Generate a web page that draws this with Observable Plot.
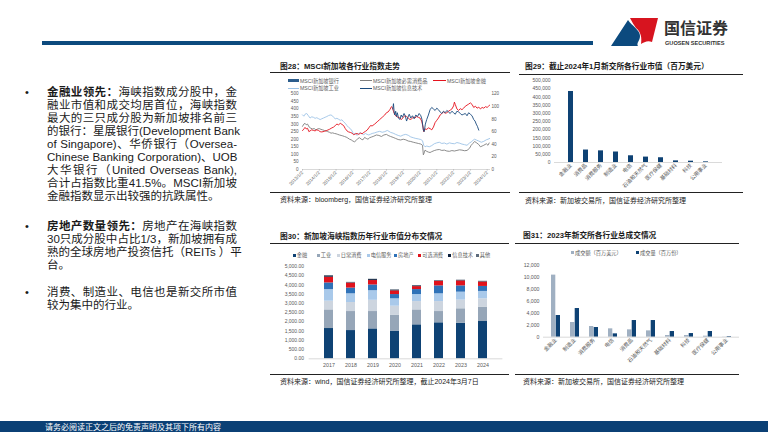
<!DOCTYPE html>
<html><head><meta charset="utf-8">
<script src="https://cdn.jsdelivr.net/npm/d3@7"></script>
<script src="https://cdn.jsdelivr.net/npm/@observablehq/plot@0.6"></script>
<style>
body{margin:0;width:768px;height:432px;position:relative;overflow:hidden;background:#fff;font-family:"Liberation Sans","Noto Sans CJK SC",sans-serif;color:#1a1a1a;}
.abs{position:absolute;}
.ln{position:absolute;left:47px;width:190px;height:13px;line-height:13px;font-size:11.5px;white-space:nowrap;text-align:justify;text-align-last:justify;}
.ln.last{text-align-last:left;}
.bul{position:absolute;left:25px;font-size:11px;line-height:13px;}
.t{position:absolute;white-space:nowrap;}
.ttl{font-size:7.7px;font-weight:700;color:#1a1a1a;font-family:"Liberation Sans","Noto Sans CJK SC",sans-serif;}
.src{font-size:7px;color:#1a1a1a;}
.hr{position:absolute;height:1px;background:#222;}
.leg{position:absolute;font-size:5.2px;color:#595959;white-space:nowrap;line-height:6px;}
svg text{font-family:"Liberation Sans","Noto Sans CJK SC",sans-serif;}
</style></head><body>
<div class="abs" style="left:42px;top:41px;width:551px;height:4px;background:#0c4a7e"></div>
<svg class="abs" style="left:0;top:0" width="768" height="60">
  <path d="M611,46 L628,20 C632,26 640,30 640,36 C640,41 636,43 638,46 Z" fill="#0c4a7e"/>
  <path d="M630,18 L658,18 L652,42 C648,40 644,42 641,44 C642,38 641,32 636,28 C634,25 632,22 630,18 Z" fill="#d7141f"/>
  <text x="664" y="34" font-size="16" font-weight="700" fill="#333" style="font-family:'Noto Sans CJK SC'">国信证券</text>
  <text x="665" y="44.5" font-size="5.6" font-weight="700" fill="#333">GUOSEN SECURITIES</text>
</svg>
<div id="left"></div>
<div id="panels"></div>
<div class="abs" style="left:0;top:421px;width:768px;height:11px;background:#0b4075"></div>
<div class="t" style="left:45px;top:421px;font-size:8px;line-height:11px;color:#fff;font-family:'Noto Sans CJK SC'">请务必阅读正文之后的免责声明及其项下所有内容</div>
<script>
// ---------------- data ----------------
const bullet1 = ["<b>金融业领先：</b>海峡指数成分股中，金","融业市值和成交均居首位，海峡指数","最大的三只成分股为新加坡排名前三","的银行：星展银行(Development Bank","of Singapore)、华侨银行（Oversea-","Chinese Banking Corporation)、UOB","大华银行（United Overseas Bank),","合计占指数比重41.5%。MSCI新加坡","金融指数显示出较强的抗跌属性。"];
const bullet2 = ["<b>房地产数量领先：</b>房地产在海峡指数","30只成分股中占比1/3，新加坡拥有成","熟的全球房地产投资信托（REITs ）平","台。"];
const bullet3 = ["消费、制造业、电信也是新交所市值","较为集中的行业。"];

// Chart 28: [year, index value on left scale]
const years28 = [2013,2014,2015,2016,2017,2018,2019,2020,2021,2022,2023,2024];
const leftTicks28 = [0,50,100,150,200,250,300,350,400,450,500];
const rightTicks28 = [0,20,40,60,80,100,120];
const indLightBlue = [[2013.0,361],[2013.08,352],[2013.15,365],[2013.25,370],[2013.35,355],[2013.45,340],[2013.55,348],[2013.65,345],[2013.75,338],[2013.85,342],[2013.95,336],[2014.05,330],[2014.15,335],[2014.25,340],[2014.35,345],[2014.45,350],[2014.55,356],[2014.65,360],[2014.75,358],[2014.85,345],[2014.95,335],[2015.05,338],[2015.15,332],[2015.25,325],[2015.35,328],[2015.45,315],[2015.55,305],[2015.65,290],[2015.75,278],[2015.85,270],[2015.95,255],[2016.05,232],[2016.15,240],[2016.25,225],[2016.35,238],[2016.45,244],[2016.55,236],[2016.65,230],[2016.75,238],[2016.85,232],[2016.95,228],[2017.05,233],[2017.15,238],[2017.3,242],[2017.45,248],[2017.6,252],[2017.75,246],[2017.9,250],[2018.05,258],[2018.15,252],[2018.25,245],[2018.4,240],[2018.55,232],[2018.7,225],[2018.85,220],[2019.0,228],[2019.15,232],[2019.3,226],[2019.45,215],[2019.6,210],[2019.75,205],[2019.9,202],[2020.05,198],[2020.15,190],[2020.22,160],[2020.3,150],[2020.4,155],[2020.55,150],[2020.7,158],[2020.85,170],[2021.0,176],[2021.15,180],[2021.3,172],[2021.45,175],[2021.6,168],[2021.75,176],[2021.9,172],[2022.05,170],[2022.2,178],[2022.35,174],[2022.5,168],[2022.65,164],[2022.8,160],[2022.95,175],[2023.05,182],[2023.15,192],[2023.25,200],[2023.35,195],[2023.5,188],[2023.65,180],[2023.8,186],[2023.95,196],[2024.05,200],[2024.15,205]];
const indGray = [[2013.0,285],[2013.08,300],[2013.15,305],[2013.22,295],[2013.3,300],[2013.4,280],[2013.5,272],[2013.6,268],[2013.7,270],[2013.8,262],[2013.9,268],[2014.0,270],[2014.1,265],[2014.2,262],[2014.3,258],[2014.4,255],[2014.5,250],[2014.6,246],[2014.7,240],[2014.8,242],[2014.9,238],[2015.0,236],[2015.1,232],[2015.2,228],[2015.3,225],[2015.4,222],[2015.5,218],[2015.6,214],[2015.7,208],[2015.8,200],[2015.9,196],[2016.0,188],[2016.1,183],[2016.2,192],[2016.3,205],[2016.4,210],[2016.5,200],[2016.6,196],[2016.7,212],[2016.8,205],[2016.9,200],[2017.0,210],[2017.1,214],[2017.25,220],[2017.4,228],[2017.55,225],[2017.7,218],[2017.85,228],[2018.0,232],[2018.1,225],[2018.25,218],[2018.4,212],[2018.55,205],[2018.7,198],[2018.85,195],[2019.0,200],[2019.15,196],[2019.3,188],[2019.45,185],[2019.6,180],[2019.75,176],[2019.9,172],[2020.05,168],[2020.15,160],[2020.2,97],[2020.25,110],[2020.3,128],[2020.4,120],[2020.5,115],[2020.6,112],[2020.7,118],[2020.85,125],[2021.0,130],[2021.15,132],[2021.3,126],[2021.45,128],[2021.6,122],[2021.75,120],[2021.9,125],[2022.05,122],[2022.2,126],[2022.35,130],[2022.5,128],[2022.65,124],[2022.8,126],[2022.95,140],[2023.05,160],[2023.15,172],[2023.25,185],[2023.35,178],[2023.5,165],[2023.6,150],[2023.7,155],[2023.8,160],[2023.95,170],[2024.05,160],[2024.12,175]];
const indRed = [[2013.0,258],[2013.05,262],[2013.1,270],[2013.15,278],[2013.22,268],[2013.3,272],[2013.38,250],[2013.45,255],[2013.55,262],[2013.65,258],[2013.75,255],[2013.85,262],[2013.95,258],[2014.05,250],[2014.15,248],[2014.3,252],[2014.45,258],[2014.6,265],[2014.75,275],[2014.85,280],[2014.95,290],[2015.05,300],[2015.15,295],[2015.25,305],[2015.35,298],[2015.45,290],[2015.55,270],[2015.65,255],[2015.75,248],[2015.85,245],[2015.95,240],[2016.05,230],[2016.15,235],[2016.25,238],[2016.35,232],[2016.45,240],[2016.55,236],[2016.65,245],[2016.75,252],[2016.85,260],[2016.95,275],[2017.05,290],[2017.15,288],[2017.3,300],[2017.45,315],[2017.6,330],[2017.75,345],[2017.9,360],[2018.0,375],[2018.1,380],[2018.2,395],[2018.3,415],[2018.35,410],[2018.42,385],[2018.5,360],[2018.6,350],[2018.7,345],[2018.8,340],[2018.9,330],[2019.0,345],[2019.1,355],[2019.2,350],[2019.3,340],[2019.4,330],[2019.5,335],[2019.6,345],[2019.7,340],[2019.8,350],[2019.9,345],[2020.0,340],[2020.1,320],[2020.18,280],[2020.22,250],[2020.3,268],[2020.4,265],[2020.5,275],[2020.6,270],[2020.7,262],[2020.8,280],[2020.9,310],[2021.0,325],[2021.1,340],[2021.2,360],[2021.3,370],[2021.4,380],[2021.5,372],[2021.6,375],[2021.7,385],[2021.8,392],[2021.9,400],[2022.0,420],[2022.05,445],[2022.1,430],[2022.2,400],[2022.3,390],[2022.4,402],[2022.5,395],[2022.6,405],[2022.7,418],[2022.8,425],[2022.9,432],[2023.0,440],[2023.1,430],[2023.2,410],[2023.3,418],[2023.4,405],[2023.5,412],[2023.6,400],[2023.7,410],[2023.8,405],[2023.9,415],[2024.0,410],[2024.08,418],[2024.15,425]];
const indNavy = [[2018.38,400],[2018.42,435],[2018.46,380],[2018.5,360],[2018.55,385],[2018.6,350],[2018.65,375],[2018.72,340],[2018.8,330],[2018.88,360],[2018.95,345],[2019.05,370],[2019.12,355],[2019.2,320],[2019.28,345],[2019.36,365],[2019.45,340],[2019.55,355],[2019.65,335],[2019.75,360],[2019.85,350],[2019.95,370],[2020.05,355],[2020.12,330],[2020.2,260],[2020.25,250],[2020.32,300],[2020.4,330],[2020.5,360],[2020.6,395],[2020.7,410],[2020.8,400],[2020.9,390],[2021.0,405],[2021.1,395],[2021.2,380],[2021.3,370],[2021.4,385],[2021.5,375],[2021.6,390],[2021.7,380],[2021.8,370],[2021.9,385],[2022.0,375],[2022.1,365],[2022.2,385],[2022.3,380],[2022.4,370],[2022.5,360],[2022.6,365],[2022.7,370],[2022.8,355],[2022.9,375],[2023.0,365],[2023.1,355],[2023.2,330],[2023.28,320],[2023.35,300],[2023.42,285],[2023.5,260]];

// Chart 29
const cats29 = ["金融业","消费品","消费服务","制造业","电信","石油和天然气","医疗保健","基础材料","科技","公用事业"];
const vals29 = [433000,76000,71000,64000,41000,33000,29000,10000,8000,4000];
const ticks29 = [0,50000,100000,150000,200000,250000,300000,350000,400000,450000,500000];

// Chart 30
const years30 = ["2017","2018","2019","2020","2021","2022","2023","2024"];
const sectors30 = ["金融","工业","日常消费","电信服务","房地产","可选消费","信息技术","其他"];
const fin30  = [1640,1530,1620,1500,1840,1950,1930,2020];
const ind30  = [1010,1030,940,850,810,610,780,780];
const stap30 = [470,490,610,500,450,540,470,450];
const tel30  = [630,470,520,400,380,420,430,400];
const re30   = [360,310,310,230,270,430,340,270];
const disc30 = [310,270,240,200,160,250,270,240];
const it30   = [40,20,50,30,40,20,20,20];
const oth30  = [50,20,20,30,20,20,20,20];
const ticks30 = [0,500,1000,1500,2000,2500,3000,3500,4000,4500,5000];

// Chart 31
const cats31 = ["金融业","制造业","消费服务","电信","消费品","石油和天然气","基础材料","科技","医疗保健","公用事业"];
const amt31 = [10390,2460,1790,1400,1230,1060,280,280,170,30];
const vol31 = [3630,4800,1620,560,2790,2790,950,610,950,110];
const series31 = ["成交额（百万美元）","成交量（百万份）"];
const ticks31 = [0,2000,4000,6000,8000,10000,12000];

// ---------------- styles ----------------
const FONT = '"Liberation Sans","Noto Sans CJK SC",sans-serif';
const NAVY = "#0e4274";
const col30 = ["#0e4274","#96a6b8","#cdd5df","#a9c9ea","#2f72b8","#e0121c","#0a1e3c","#5d6b7c"];
const col31 = ["#a0b0c2","#0e4274"];

// ---------------- left text ----------------
const left = document.getElementById("left");
function bulletBlock(lines, top){
  const b = document.createElement("div"); b.className="bul"; b.style.top=top+"px"; b.textContent="•"; left.appendChild(b);
  lines.forEach((s,i)=>{
    const d=document.createElement("div"); d.className="ln"+(i===lines.length-1?" last":"");
    d.style.top=(top+i*13.05)+"px"; d.innerHTML=s; left.appendChild(d);
  });
}
bulletBlock(bullet1,85.5);
bulletBlock(bullet2,219.5);
bulletBlock(bullet3,285.5);

// ---------------- panel helpers ----------------
const panels = document.getElementById("panels");
function txt(x,yc,s,cls,size){const d=document.createElement("div");d.className="t "+cls;d.style.left=x+"px";d.style.top=(yc-size*0.65)+"px";d.style.lineHeight=(size*1.3)+"px";d.textContent=s;panels.appendChild(d);}
function hr(x1,x2,y){const d=document.createElement("div");d.className="hr";d.style.left=x1+"px";d.style.width=(x2-x1)+"px";d.style.top=y+"px";panels.appendChild(d);}
function place(svg,x,y){svg.style.position="absolute";svg.style.left=x+"px";svg.style.top=y+"px";panels.appendChild(svg);}
function legLine(x,y,w,color,sw,label,tx){
  const s=document.createElement("div");s.className="abs";s.style.left=x+"px";s.style.top=(y-sw/2)+"px";s.style.width=w+"px";s.style.height=sw+"px";s.style.background=color;panels.appendChild(s);
  const t=document.createElement("div");t.className="leg";t.style.left=tx+"px";t.style.top=(y-3)+"px";t.textContent=label;panels.appendChild(t);
}
function legBox(x,y,color,label){
  const s=document.createElement("div");s.className="abs";s.style.left=x+"px";s.style.top=(y-1.5)+"px";s.style.width="3px";s.style.height="3px";s.style.background=color;panels.appendChild(s);
  const t=document.createElement("div");t.className="leg";t.style.left=(x+4)+"px";t.style.top=(y-3)+"px";t.textContent=label;panels.appendChild(t);
}

// titles, rules, sources
txt(280,66.7,"图28：MSCI新加坡各行业指数走势","ttl",7.7); hr(270,510,72); hr(270,510,192);
txt(280,200,"资料来源：bloomberg，国信证券经济研究所整理","src",7);
txt(525,67.3,"图29：截止2024年1月新交所各行业市值（百万美元）","ttl",7.7); hr(519,743,74); hr(519,743,192);
txt(525,200.7,"资料来源：新加坡交易所，国信证券经济研究所整理","src",7);
txt(280,236.7,"图30：新加坡海峡指数历年行业市值分布交情况","ttl",7.7); hr(270,509,243); hr(270,509,374);
txt(280,381.7,"资料来源：wind，国信证券经济研究所整理，截止2024年3月7日","src",7);
txt(523,236,"图31：2023年新交所各行业总成交情况","ttl",7.7); hr(515,739,243); hr(515,739,374);
txt(523,381.7,"资料来源：新加坡交易所，国信证券经济研究所整理","src",7);

// ---------------- chart 28 ----------------
legLine(288,80.7,11,"#2c5d8c",2.5,"MSCI新加坡银行",300);
legLine(360,80.7,12,"#7f7f7f",1,"MSCI新加坡必需消费品",373);
legLine(433,80.7,13,"#e5121d",1,"MSCI新加坡金融",447);
legLine(288,88.3,11,"#9dc3e6",1,"MSCI新加坡工业",300);
legLine(360,88.3,12,"#1b4b7e",1,"MSCI新加坡信息技术",373);
const line = (data,color)=>Plot.line(data,{x:d=>d[0],y:d=>d[1],stroke:color,strokeWidth:0.9});
const c28 = Plot.plot({
  width:245,height:100,marginTop:3.3,marginBottom:21,marginLeft:32,marginRight:25,
  style:{fontSize:"4.6px",color:"#595959",fontFamily:FONT,background:"transparent"},
  x:{domain:[2013,2024.2]},
  y:{domain:[0,500]},
  marks:[
    Plot.ruleY([0],{stroke:"#bfbfbf",strokeWidth:0.6}),
    line(indLightBlue,"#9dc3e6"),
    line(indGray,"#7f7f7f"),
    line(indRed,"#e5121d"),
    line(indNavy,"#1b4b7e"),
    Plot.axisY(leftTicks28,{anchor:"left",tickSize:0,tickPadding:4,label:null}),
    Plot.axisY(rightTicks28.map(v=>v/0.24),{anchor:"right",tickSize:0,tickPadding:1,label:null,tickFormat:d=>Math.round(d*0.24)}),
    Plot.axisX(years28,{tickRotate:-45,tickSize:1.5,tickPadding:1,label:null,tickFormat:d=>`${d}/1/2`,stroke:"#bfbfbf"})
  ]
});
place(c28,270,90);

// ---------------- chart 29 ----------------
const c29 = Plot.plot({
  width:253,height:115,marginTop:4,marginBottom:29,marginLeft:39,marginRight:46,
  style:{fontSize:"5px",color:"#595959",fontFamily:FONT,background:"transparent"},
  x:{domain:cats29,padding:0.7},
  y:{domain:[0,500000]},
  marks:[
    Plot.barY(cats29,{x:d=>d,y:(d,i)=>vals29[i],fill:NAVY}),
    Plot.ruleY([0],{stroke:"#d0d0d0",strokeWidth:0.8}),
    Plot.axisY(ticks29,{tickSize:0,tickPadding:4,label:null,tickFormat:d3.format(",")}),
    Plot.axisX({tickRotate:-45,tickSize:0,tickPadding:2,label:null,fontSize:"5.3px"})
  ]
});
place(c29,515,76);

// ---------------- chart 30 ----------------
const labels30 = [[292.7,"金融"],[316.7,"工业"],[336.7,"日常消费"],[366.7,"电信服务"],[394,"房地产"],[418.3,"可选消费"],[448.3,"信息技术"],[475.7,"其他"]];
labels30.forEach(([x,l],i)=>legBox(x,255,col30[i],l));
const vals30 = [fin30,ind30,stap30,tel30,re30,disc30,it30,oth30];
const rows30 = [];
years30.forEach((y,i)=>sectors30.forEach((s,j)=>rows30.push({year:y,sector:s,value:vals30[j][i]})));
const c30 = Plot.plot({
  width:245,height:115,marginTop:8,marginBottom:14.7,marginLeft:38.6,marginRight:12.6,
  style:{fontSize:"5px",color:"#595959",fontFamily:FONT,background:"transparent"},
  x:{domain:years30,padding:0.58},
  y:{domain:[0,5000]},
  color:{domain:sectors30,range:col30},
  marks:[
    Plot.barY(rows30,{x:"year",y:"value",fill:"sector",order:sectors30}),
    Plot.ruleY([0],{stroke:"#d0d0d0",strokeWidth:0.8}),
    Plot.axisY(ticks30,{tickSize:0,tickPadding:5,label:null,tickFormat:d3.format(",.2f")}),
    Plot.axisX({tickSize:0,tickPadding:4,label:null,fontSize:"5.3px"})
  ]
});
place(c30,270,258);

// ---------------- chart 31 ----------------
legBox(571,252.7,col31[0],series31[0]);
legBox(636,252.7,col31[1],series31[1]);
const W31=253, ML31=28, MR31=29, PI31=0.52, PO31=0.26;
const step31 = (W31-ML31-MR31)/(cats31.length-PI31+2*PO31);
const half31 = step31*(1-PI31)/2;
const c31 = Plot.plot({
  width:W31,height:115,marginTop:7,marginBottom:36.3,marginLeft:ML31,marginRight:MR31,
  style:{fontSize:"5.2px",color:"#595959",fontFamily:FONT,background:"transparent"},
  x:{domain:cats31,paddingInner:PI31,paddingOuter:PO31},
  y:{domain:[0,12000]},
  marks:[
    Plot.barY(cats31,{x:d=>d,y:(d,i)=>amt31[i],fill:col31[0],insetRight:half31}),
    Plot.barY(cats31,{x:d=>d,y:(d,i)=>vol31[i],fill:col31[1],insetLeft:half31}),
    Plot.ruleY([0],{stroke:"#d0d0d0",strokeWidth:0.8}),
    Plot.axisY(ticks31,{tickSize:0,tickPadding:4,label:null,tickFormat:d3.format(",")}),
    Plot.axisX({tickRotate:-45,tickSize:0,tickPadding:2,label:null,fontSize:"5.3px"})
  ]
});
place(c31,515,258);
</script>
</body></html>
